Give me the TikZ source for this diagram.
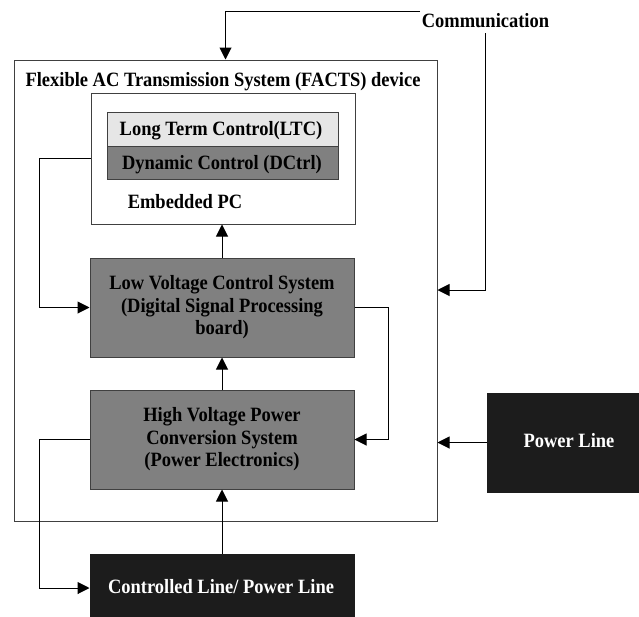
\documentclass[tikz,border=0pt]{standalone}
\usepackage{fontspec}
\setmainfont{Liberation Serif}[FakeStretch=0.91]
\usetikzlibrary{arrows.meta}
\definecolor{midgray}{HTML}{808080}
\definecolor{lightgray}{HTML}{E6E6E6}
\definecolor{nearblack}{HTML}{1C1C1C}
\definecolor{edgegray}{HTML}{404040}
\tikzset{
  lbl/.style={font=\fontsize{20.3}{22.5}\selectfont\bfseries, align=center, inner sep=0pt},
  frame/.style={draw=edgegray, line width=1pt, rectangle, inner sep=0pt},
  graybox/.style={frame, fill=midgray, lbl},
  darkbox/.style={frame, draw=nearblack, fill=nearblack, lbl, text=white},
  conn/.style={draw=black, line width=1pt, -{Triangle[length=12pt,width=12pt]}},
}
\begin{document}
\begin{tikzpicture}[x=1pt, y=-1pt]
\useasboundingbox (0,0) rectangle (639,616);
\clip (0,0) rectangle (639,616);

% FACTS enclosure and its title
\node[frame, minimum width=423pt, minimum height=461pt] (facts) at (225.5,290.5) {};
\node[lbl, anchor=base] (title) at (223,86.5) {Flexible AC Transmission System (FACTS) device};

% embedded PC with its two control layers
\node[frame, fill=white, minimum width=264pt, minimum height=131pt] (epc) at (223,158.5) {};
\node[frame, fill=lightgray, minimum width=231pt, minimum height=34pt] (ltc) at (222.5,129) {};
\node[frame, fill=midgray, minimum width=231pt, minimum height=33pt] (dctrl) at (222.5,162.5) {};
\node[lbl, anchor=base] (ltclbl) at (221,135) {Long Term Control(LTC)};
\node[lbl, anchor=base] (dctrllbl) at (222,169) {Dynamic Control (DCtrl)};
\node[lbl, anchor=base] (epclbl) at (185,208) {Embedded PC};

% control and power stages
\node[graybox, minimum width=264pt, minimum height=99pt] (lv) at (222,307.5)
  {Low Voltage Control System\\(Digital Signal Processing\\board)};
\node[graybox, minimum width=264pt, minimum height=99pt] (hv) at (222,439.5)
  {High Voltage Power\\Conversion System\\(Power Electronics)};

% external lines
\node[darkbox, minimum width=264pt, minimum height=68pt] (cl) at (222,588) {};
\node[lbl, anchor=base, text=white] (cllbl) at (221,593) {Controlled Line/ Power Line};
\node[darkbox, minimum width=158pt, minimum height=99pt] (pl) at (566,442.5) {};
\node[lbl, anchor=base, text=white] (pllbl) at (569,447) {Power Line};

% communication link
\node[lbl, anchor=base] (comm) at (485.5,27) {Communication};
\coordinate (commL) at (420,11);
\coordinate (commR) at (485.5,33);
\coordinate (lvlY) at (0,290);

\draw[conn] (commL) -| (facts.north);
\draw[conn] (commR) |- (facts.east |- lvlY);

% signal flow inside the device
\draw[conn] (lv.north) -- (lv.north |- epc.south);
\draw[conn] (hv.north) -- (hv.north |- lv.south);
\draw[conn] (cl.north) -- (cl.north |- hv.south);
\draw[conn] (epc.west) -- ++(-51,0) |- (lv.west);
\draw[conn] (lv.east) -- ++(34,0) |- (hv.east);
\draw[conn] (hv.west) -- ++(-50,0) |- (cl.west);
\draw[conn] (pl.west) -- (pl.west -| facts.east);
\end{tikzpicture}
\end{document}
